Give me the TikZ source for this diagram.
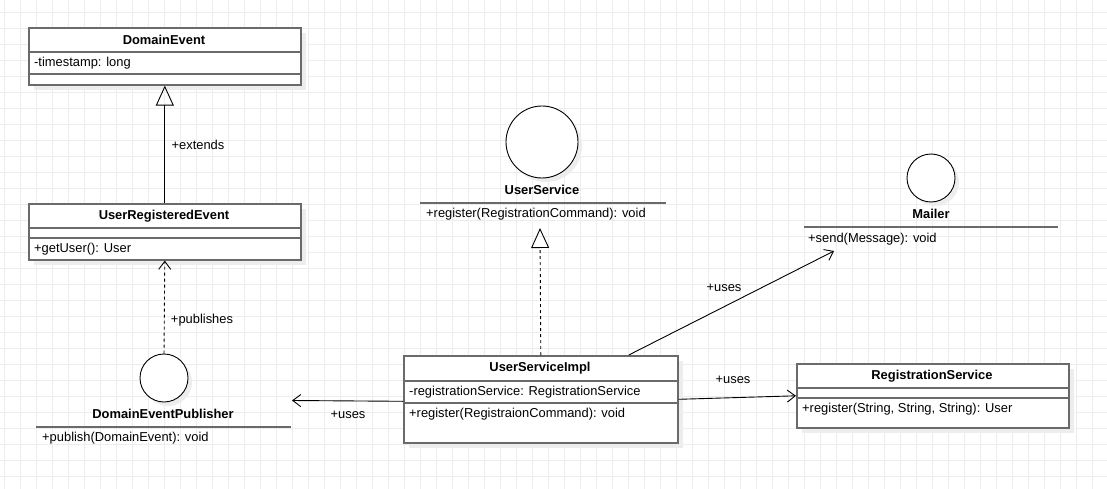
\documentclass[tikz,border=0pt]{standalone}
\usepackage{fontspec}
\setmainfont{Liberation Sans}
\usetikzlibrary{arrows.meta,shadows}
\definecolor{gridc}{HTML}{EDEDED}
\definecolor{boxc}{HTML}{6A6A6A}
\begin{document}
\begin{tikzpicture}[x=1pt,y=-1pt,
  every node/.style={font=\fontsize{12.9}{15}\selectfont, inner sep=0pt},
  box/.style={draw=boxc, line width=1.6pt, fill=white, rectangle, anchor=north west,
    drop shadow={shadow xshift=5pt,shadow yshift=-5pt,fill=black!7,opacity=1}},
  iface/.style={draw=black, line width=0.9pt, fill=white, circle,
    drop shadow={shadow xshift=4pt,shadow yshift=-4pt,fill=black!7,opacity=1}},
  sep/.style={draw=boxc, line width=1.6pt},
  title/.style={font=\fontsize{12.9}{15}\selectfont\bfseries},
  member/.style={anchor=west},
  conn/.style={draw=black, line width=0.9pt},
  openarrow/.style={-{Straight Barb[length=8pt,width=12pt]}},
  hollowtri/.style={-{Triangle[open,length=20pt,width=18pt]}},
  dsh/.style={dash pattern=on 3pt off 3pt}
]
\useasboundingbox (0,0) rectangle (1107,489);
\fill[white] (0,0) rectangle (1107,489);
\foreach \x in {4,20,...,1107} \draw[gridc, line width=0.8pt] (\x,0) -- (\x,489);
\foreach \y in {12,28,...,489} \draw[gridc, line width=0.8pt] (0,\y) -- (1107,\y);

% DomainEvent
\node[box, minimum width=272pt, minimum height=57pt] (de) at (28,27) {};
\node[title] (deT) at (164,40) {DomainEvent};
\draw[sep] (28,52) -- (300,52);
\draw[sep] (28,74) -- (300,74);
\node[member] (deA) at (34,63) {-timestamp: long};

% UserRegisteredEvent
\node[box, minimum width=272pt, minimum height=56pt] (ure) at (28,203) {};
\node[title] (ureT) at (164,216) {UserRegisteredEvent};
\draw[sep] (28,228) -- (300,228);
\draw[sep] (28,238) -- (300,238);
\node[member] (ureM) at (34,249) {+getUser(): User};

% DomainEventPublisher
\node[iface, minimum size=48pt] (pub) at (164,378) {};
\node[title] (pubT) at (163,414) {DomainEventPublisher};
\draw[sep] (36,427) -- (291,427);
\node[member] (pubM) at (42,438) {+publish(DomainEvent): void};

% UserService
\node[iface, minimum size=72pt] (us) at (542,142) {};
\node[title] (usT) at (542,190) {UserService};
\draw[sep] (420,203) -- (666,203);
\node[member] (usM) at (426,214) {+register(RegistrationCommand): void};

% Mailer
\node[iface, minimum size=48pt] (ml) at (931,178) {};
\node[title] (mlT) at (931,214) {Mailer};
\draw[sep] (804,227) -- (1058,227);
\node[member] (mlM) at (808,239) {+send(Message): void};

% UserServiceImpl
\node[box, minimum width=274pt, minimum height=87pt] (impl) at (403,355) {};
\node[title] (implT) at (540,368) {UserServiceImpl};
\draw[sep] (403,381) -- (677,381);
\draw[sep] (403,403) -- (677,403);
\node[member] (implA) at (409,392) {-registrationService: RegistrationService};
\node[member] (implM) at (409,414) {+register(RegistraionCommand): void};

% RegistrationService
\node[box, minimum width=272pt, minimum height=64pt] (rs) at (796,363) {};
\node[title] (rsT) at (932,376) {RegistrationService};
\draw[sep] (796,388) -- (1068,388);
\draw[sep] (796,398) -- (1068,398);
\node[member] (rsM) at (802,409) {+register(String, String, String): User};

% connector end points
\coordinate (usTip) at (540,228);
\coordinate (mailTip) at (834,251);
\coordinate (pubTip) at (292,400.5);

% connectors
\draw[conn, hollowtri] (ure.north) -- (de.south);
\draw[conn, dsh, openarrow] (pub.north) -- (ure.south);
\draw[conn, dsh, hollowtri] (impl.north) -- (usTip);
\draw[conn, openarrow] ([xshift=88pt]impl.north) -- (mailTip);
\draw[conn, openarrow] (impl.east) -- (rs.west);
\draw[conn, openarrow] ([yshift=-2pt]impl.west) -- (pubTip);

% labels
\node (lext) at (198,145) {+extends};
\node (lpub) at (202,320) {+publishes};
\node (lml) at (724,288) {+uses};
\node (lrs) at (733,380) {+uses};
\node (lpu) at (348,415) {+uses};
\end{tikzpicture}
\end{document}
